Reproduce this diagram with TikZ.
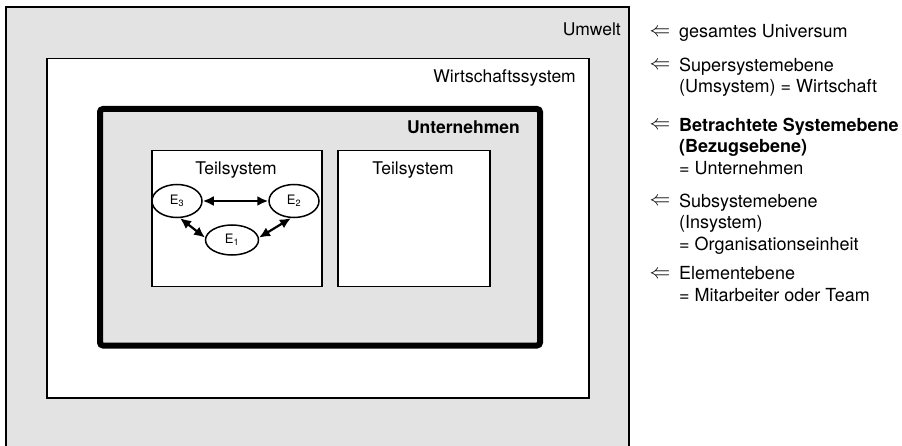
\documentclass[tikz,border=0pt]{standalone}
\usepackage{fontspec}
\setmainfont{TeX Gyre Heros}
\usetikzlibrary{positioning,shapes.geometric,arrows.meta}
\definecolor{umweltgrau}{RGB}{227,227,227}

\begin{document}
\begin{tikzpicture}[x=1pt,y=-1pt,
    titel/.style={%
      inner sep=0pt,
      font=\fontsize{17.5}{20}\selectfont,
    },
  ]

\tikzstyle{rahmen} = [rectangle, draw=black, line width=1.5pt, fill=white, inner sep=0pt, anchor=north west]
\tikzstyle{element} = [ellipse, draw=black, line width=1.5pt, fill=white, minimum width=50pt, minimum height=33pt, inner sep=0pt, font=\fontsize{13}{15}\selectfont]
\tikzstyle{beziehung} = [{Latex[length=11pt,width=10pt]}-{Latex[length=11pt,width=10pt]}, line width=2.2pt]
\tikzstyle{ebene} = [anchor=north west, align=left, inner sep=0pt, font=\fontsize{18}{21.5}\selectfont]
\tikzstyle{pfeil} = [inner sep=0pt, font=\fontsize{22}{24}\selectfont]

    \useasboundingbox (0,0) rectangle (902,446);

    % Umwelt, unten offen
    \fill[umweltgrau] (6,7) rectangle (629,446);
    \draw[line width=1.8pt] (6,446) -- (6,7) -- (629,7) -- (629,446);

    \node [rahmen, minimum width=542pt, minimum height=339pt] (wirtschaft) at (46,58) {};
    \node [rahmen, line width=6pt, rounded corners=3pt, fill=umweltgrau, minimum width=440pt, minimum height=236.5pt] (unternehmen) at (97,106) {};
    \node [rahmen, minimum width=170pt, minimum height=136pt] (teil1) at (151,150) {};
    \node [rahmen, minimum width=152pt, minimum height=136pt] (teil2) at (337,150) {};

    \node [titel, anchor=east] (lumwelt) at (621,29) {Umwelt};
    \node [titel, anchor=east] (lwirtschaft) at (576,78) {Wirtschaftssystem};
    \node [titel, anchor=east, font=\fontsize{17.5}{20}\selectfont\bfseries] (lunternehmen) at (520,127) {Unternehmen};
    \node [titel] (lteil1) at (236,170) {Teilsystem};
    \node [titel] (lteil2) at (413,170) {Teilsystem};

    \node [element] (e3) at (177,201) {E\textsubscript{3}};
    \node [element] (e2) at (294,201) {E\textsubscript{2}};
    \node [element, minimum width=53pt, minimum height=30pt] (e1) at (232,240) {E\textsubscript{1}};

    \draw [beziehung] (e3) -- (e2);
    \draw [beziehung] (e3.-80) -- (e1.175);
    \draw [beziehung] (e2.-100) -- (e1.5);

    % Ebenen rechts
    \node [ebene] (universum) at (679,24.5) {gesamtes Universum};
    \node [ebene] (super) at (679,57.5) {Supersystemebene\\(Umsystem) = Wirtschaft};
    \node [ebene] (bezug) at (679,117.5) {\textbf{Betrachtete Systemebene}\\\textbf{(Bezugsebene)}\\= Unternehmen};
    \node [ebene] (sub) at (679,193.5) {Subsystemebene\\(Insystem)\\= Organisationseinheit};
    \node [ebene] (element) at (679,266.5) {Elementebene\\= Mitarbeiter oder Team};

    \path (universum.north west) ++(-19,8) node [pfeil] (p1) {$\Leftarrow$};
    \path (super.north west) ++(-19,8) node [pfeil] (p2) {$\Leftarrow$};
    \path (bezug.north west) ++(-19,8) node [pfeil] (p3) {$\Leftarrow$};
    \path (sub.north west) ++(-19,8) node [pfeil] (p4) {$\Leftarrow$};
    \path (element.north west) ++(-19,8) node [pfeil] (p5) {$\Leftarrow$};
\end{tikzpicture}
\end{document}
